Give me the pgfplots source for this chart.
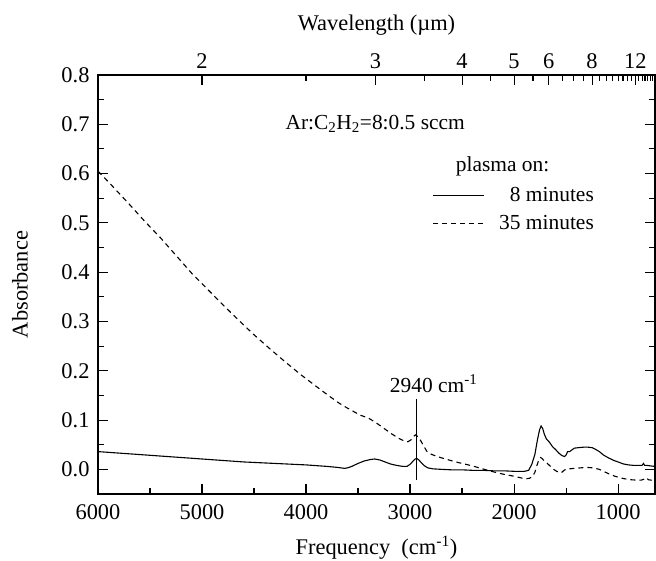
\documentclass[border=0pt]{standalone}
\usepackage{fontspec}
\setmainfont{Liberation Serif}
\usepackage{pgfplots}
\usepackage{pgfplotstable}
\pgfplotsset{compat=1.18}

\pgfplotstableread{
x y
6000 0.036
5800 0.033
5600 0.030
5400 0.027
5200 0.024
5000 0.021
4800 0.018
4600 0.015
4400 0.013
4200 0.011
4000 0.009
3800 0.006
3700 0.004
3630 0.002
3600 0.003
3560 0.006
3500 0.012
3440 0.017
3380 0.020
3340 0.021
3290 0.019
3240 0.015
3190 0.011
3130 0.008
3070 0.006
3030 0.006
3000 0.010
2970 0.017
2950 0.021
2935 0.022
2915 0.019
2890 0.013
2860 0.007
2830 0.003
2780 0.001
2700 0.000
2600 -0.001
2500 -0.001
2400 -0.002
2300 -0.002
2200 -0.003
2100 -0.003
2000 -0.004
1900 -0.004
1860 -0.002
1830 0.010
1800 0.030
1775 0.060
1755 0.080
1740 0.088
1725 0.083
1710 0.072
1690 0.062
1660 0.055
1630 0.046
1600 0.040
1570 0.033
1540 0.028
1515 0.026
1500 0.029
1485 0.036
1465 0.036
1440 0.040
1420 0.043
1380 0.044
1330 0.045
1290 0.045
1250 0.044
1220 0.041
1180 0.036
1140 0.029
1090 0.023
1040 0.018
1000 0.015
950 0.011
900 0.009
850 0.008
800 0.008
770 0.008
755 0.012
745 0.008
720 0.008
690 0.007
650 0.006
}\solidtab

\pgfplotstableread{
x y
6000 0.605
5850 0.572
5700 0.538
5550 0.503
5400 0.470
5250 0.434
5100 0.398
4950 0.366
4800 0.334
4650 0.303
4500 0.273
4350 0.245
4200 0.218
4050 0.192
3900 0.168
3780 0.149
3680 0.134
3600 0.124
3540 0.117
3480 0.110
3400 0.104
3330 0.095
3250 0.083
3170 0.071
3100 0.062
3050 0.057
3020 0.056
2990 0.060
2960 0.068
2945 0.070
2925 0.066
2900 0.059
2870 0.048
2840 0.037
2800 0.031
2740 0.026
2660 0.021
2560 0.015
2460 0.010
2400 0.007
2320 0.002
2200 -0.005
2100 -0.010
2000 -0.014
1920 -0.018
1880 -0.019
1850 -0.018
1820 -0.014
1800 -0.006
1780 0.008
1760 0.020
1745 0.024
1730 0.022
1710 0.017
1680 0.012
1650 0.006
1620 0.000
1590 -0.004
1560 -0.007
1540 -0.006
1520 -0.002
1500 0.000
1470 0.001
1420 0.002
1360 0.003
1300 0.004
1240 0.003
1180 0.000
1130 -0.005
1080 -0.010
1030 -0.014
980 -0.017
940 -0.019
880 -0.021
820 -0.022
780 -0.022
750 -0.020
725 -0.017
710 -0.021
680 -0.022
650 -0.021
}\dashedtab

\begin{document}
\begin{tikzpicture}
\pgfplotsset{
  common/.style={
    scale only axis, width=557bp, height=419bp,
    x dir=reverse, xmin=645, xmax=6000, ymin=-0.05, ymax=0.8,
    tick align=inside,
    major tick length=10bp, minor tick length=6bp,
    axis line style={line width=1.3bp},
    every tick/.style={black, line width=1.1bp},
    tick label style={font=\fontsize{22.5}{26}\selectfont},
    label style={font=\fontsize{22.5}{26}\selectfont},
    /pgf/number format/assume math mode=true,
    scaled x ticks=false,
  }
}
\begin{axis}[common, name=main,
  xtick={1000,2000,3000,4000,5000,6000},
  xticklabels={1000,2000,3000,4000,5000,6000},
  minor xtick={1500,2500,3500,4500,5500},
  ytick={0,0.1,0.2,0.3,0.4,0.5,0.6,0.7,0.8},
  minor ytick={-0.05,0.05,0.15,0.25,0.35,0.45,0.55,0.65,0.75},
  yticklabel style={xshift=-5bp, /pgf/number format/.cd, fixed, fixed zerofill, precision=1},
  xticklabel style={yshift=-7bp},
  xtick pos=left, xticklabel pos=left,
  ytick pos=both, yticklabel pos=left,
  xlabel={Frequency~~(cm\textsuperscript{-1})},
  ylabel={Absorbance},
  xlabel style={at={(axis description cs:0.5,-0.128)}, anchor=center},
  ylabel style={at={(axis description cs:-0.140,0.5)}, anchor=center},
]
\addplot[black, line width=1.1bp] table {\solidtab};
\addplot[black, line width=1.1bp, dash pattern=on 5bp off 4bp] table {\dashedtab};
\draw[line width=1bp] (axis cs:2940,-0.022) -- (axis cs:2940,0.142);
\node[anchor=base, inner sep=0pt, font=\fontsize{21.5}{25}\selectfont] at (axis cs:2773,0.156) {2940 cm\textsuperscript{-1}};
\node[anchor=base west, inner sep=0pt, font=\fontsize{21.5}{25}\selectfont] at (axis cs:4198,0.690) {Ar:C\textsubscript{2}H\textsubscript{2}=8:0.5 sccm};
\node[anchor=base west, inner sep=0pt, font=\fontsize{21.5}{25}\selectfont] at (axis cs:2561,0.604) {plasma on:};
\node[anchor=base east, inner sep=0pt, font=\fontsize{21.5}{25}\selectfont] at (axis cs:1231,0.543) {8 minutes};
\node[anchor=base east, inner sep=0pt, font=\fontsize{21.5}{25}\selectfont] at (axis cs:1231,0.486) {35 minutes};
\draw[line width=1.1bp] (axis cs:2776,0.555) -- (axis cs:2289,0.555);
\draw[line width=1.1bp, dash pattern=on 5bp off 4bp] (axis cs:2776,0.498) -- (axis cs:2289,0.498);
\end{axis}
\begin{axis}[common,
  hide y axis,
  xtick={5000,3333.33,2500,2000,1666.67,1250,833.33},
  xticklabels={2,3,4,5,6,8,12},
  minor xtick={4000,2857.14,2222.22,1818.18,1538.46,1428.57,1333.33,1176.47,1111.11,1052.63,1000,952.38,909.09,869.57,800,769.23,740.74,714.29,689.66,666.67},
  xtick pos=right, xticklabel pos=right,
  xticklabel style={yshift=3bp},
  xlabel={Wavelength (µm)},
  xlabel style={at={(axis description cs:0.5,1.118)}, anchor=center},
]
\end{axis}
\pgfresetboundingbox
\path[use as bounding box] ([shift={(-98bp,-67bp)}]main.south west) rectangle ([shift={(1bp,75bp)}]main.north east);
\end{tikzpicture}
\end{document}
